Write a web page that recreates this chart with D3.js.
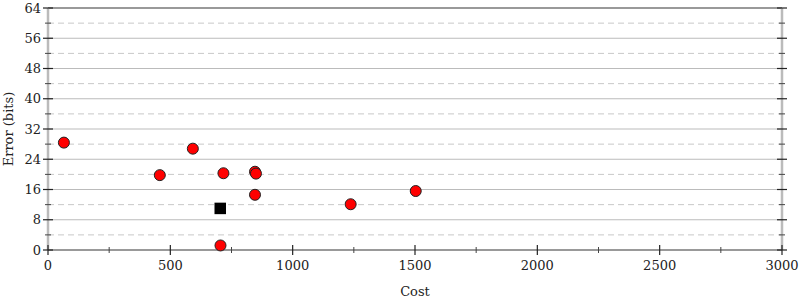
<!DOCTYPE html>
<html>
<head>
<meta charset="utf-8">
<script src="https://cdn.jsdelivr.net/npm/d3@7"></script>
<style>
  html, body { margin: 0; padding: 0; background: #fff; }
  svg { display: block; font-family: "DejaVu Serif", serif; }
  .lbl { font-size: 13px; fill: #222; }
</style>
</head>
<body>
<div id="chart"></div>
<script>
// data
const costs  = [65, 592, 457, 717, 846, 850, 846, 705, 1237, 1503];
const errors = [28.4, 26.8, 19.8, 20.3, 20.7, 20.2, 14.6, 1.2, 12.1, 15.6];
const refCost = [704];
const refError = [11.0];
const xTicks = [0, 500, 1000, 1500, 2000, 2500, 3000];
const yTicks = [0, 8, 16, 24, 32, 40, 48, 56, 64];

const W = 800, H = 300;
const m = { left: 48, right: 18, top: 8, bottom: 50 };

const svg = d3.select("#chart").append("svg")
  .attr("width", W).attr("height", H);

const x = d3.scaleLinear().domain([0, 3000]).range([m.left, W - m.right]);
const y = d3.scaleLinear().domain([0, 64]).range([H - m.bottom, m.top]);

const minorY = d3.range(4, 64, 8);
const minorX = d3.range(250, 3000, 500);

// grid
const g = svg.append("g");
g.selectAll("line.maj").data(yTicks.slice(1, -1)).join("line")
  .attr("x1", x(0)).attr("x2", x(3000))
  .attr("y1", y).attr("y2", y)
  .attr("stroke", "#bbb").attr("stroke-width", 1.2);
g.selectAll("line.min").data(minorY).join("line")
  .attr("x1", x(0)).attr("x2", x(3000))
  .attr("y1", y).attr("y2", y)
  .attr("stroke", "#c8c8c8").attr("stroke-width", 1).attr("stroke-dasharray", "6,4");

// frame
svg.append("line").attr("x1", x(0)).attr("x2", x(3000)).attr("y1", y(64)).attr("y2", y(64))
  .attr("stroke", "#999").attr("stroke-width", 2);
svg.append("line").attr("x1", x(0)).attr("x2", x(0)).attr("y1", y(0)).attr("y2", y(64))
  .attr("stroke", "#bbb").attr("stroke-width", 2.5);
svg.append("line").attr("x1", x(3000)).attr("x2", x(3000)).attr("y1", y(0)).attr("y2", y(64))
  .attr("stroke", "#bbb").attr("stroke-width", 2.5);
svg.append("line").attr("x1", x(0)).attr("x2", x(3000)).attr("y1", y(0)).attr("y2", y(0))
  .attr("stroke", "#999").attr("stroke-width", 2);

// y ticks (both sides)
[x(0), x(3000)].forEach(px => {
  svg.append("g").selectAll("line").data(yTicks).join("line")
    .attr("x1", px - 5).attr("x2", px + 5).attr("y1", y).attr("y2", y)
    .attr("stroke", "#222").attr("stroke-width", 1.2);
  svg.append("g").selectAll("line").data(minorY).join("line")
    .attr("x1", px - 3).attr("x2", px + 3).attr("y1", y).attr("y2", y)
    .attr("stroke", "#444").attr("stroke-width", 1);
});
svg.append("g").selectAll("text").data(yTicks).join("text")
  .attr("class", "lbl").attr("x", x(0) - 7).attr("y", y).attr("dy", "0.35em")
  .attr("text-anchor", "end").text(d => d);

// x ticks
svg.append("g").selectAll("line").data(xTicks).join("line")
  .attr("x1", x).attr("x2", x).attr("y1", y(0) - 5).attr("y2", y(0) + 5)
  .attr("stroke", "#222").attr("stroke-width", 1.2);
svg.append("g").selectAll("line").data(minorX).join("line")
  .attr("x1", x).attr("x2", x).attr("y1", y(0) - 3).attr("y2", y(0) + 3)
  .attr("stroke", "#444").attr("stroke-width", 1);
svg.append("g").selectAll("text").data(xTicks).join("text")
  .attr("class", "lbl").attr("x", x).attr("y", y(0) + 20)
  .attr("text-anchor", "middle").text(d => d);

// axis titles
svg.append("text").attr("class", "lbl").attr("x", (x(0) + x(3000)) / 2).attr("y", 296)
  .attr("text-anchor", "middle").text("Cost");
svg.append("text").attr("class", "lbl")
  .attr("transform", `translate(13,${(y(0) + y(64)) / 2}) rotate(-90)`)
  .attr("text-anchor", "middle").text("Error (bits)");

// points
svg.append("g").selectAll("circle").data(costs.map((c, i) => [c, errors[i]])).join("circle")
  .attr("cx", d => x(d[0])).attr("cy", d => y(d[1])).attr("r", 5.5)
  .attr("fill", "#f00").attr("stroke", "#222").attr("stroke-width", 1);
svg.append("g").selectAll("rect").data(refCost.map((c, i) => [c, refError[i]])).join("rect")
  .attr("x", d => x(d[0]) - 5.75).attr("y", d => y(d[1]) - 5.75)
  .attr("width", 11.5).attr("height", 11.5).attr("fill", "#000");
</script>
</body>
</html>
